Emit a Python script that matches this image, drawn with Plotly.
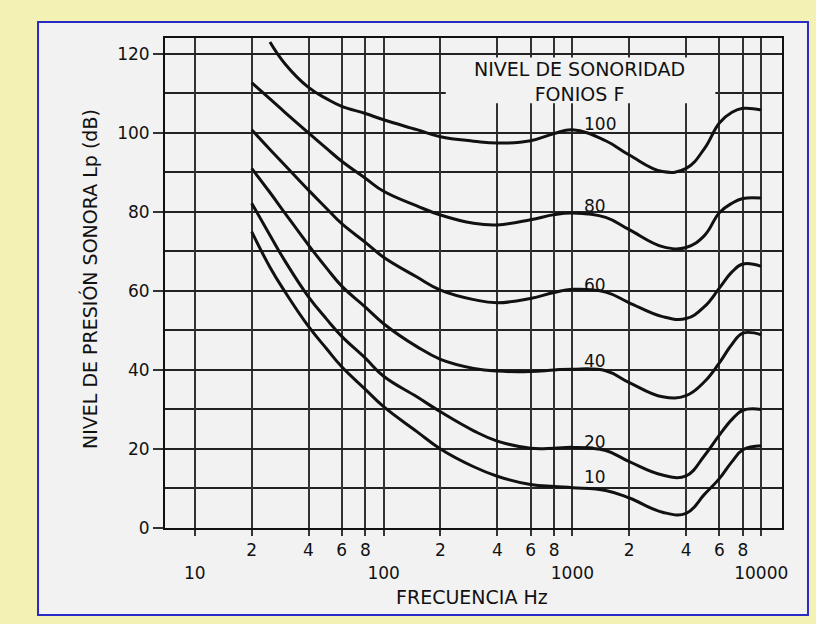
import math
import plotly.graph_objects as go

# ---- data ----
freq_hz = [20, 25, 30, 40, 50, 60, 80, 100, 150, 200, 300, 400, 600, 800,
           1000, 1500, 2000, 3000, 4000, 5000, 6000, 7000, 8000, 10000]
phon_levels = [100, 80, 60, 40, 20, 10]
spl_100 = [None, 123.0, 117.5, 111.5, 108.6, 106.7, 104.9, 103.3, 100.8, 99.0, 97.9, 97.4,
           98.0, 99.8, 100.8, 98.0, 94.4, 90.2, 91.0, 96.0, 102.5, 105.2, 106.2, 105.8]
spl_80 = [112.7, 108.6, 105.2, 100.0, 96.0, 92.8, 88.5, 85.2, 81.5, 79.2, 77.1, 76.7,
          78.0, 79.3, 79.7, 78.6, 75.5, 71.2, 71.0, 74.0, 79.8, 82.2, 83.4, 83.5]
spl_60 = [100.8, 95.8, 91.8, 85.5, 80.8, 77.0, 72.3, 68.5, 63.5, 60.2, 57.8, 57.0,
          58.1, 59.6, 60.4, 59.7, 57.0, 53.5, 53.0, 56.0, 60.7, 64.8, 66.8, 66.2]
spl_40 = [91.0, 84.9, 79.7, 71.6, 65.7, 61.2, 55.9, 51.7, 45.9, 42.7, 40.4, 39.7,
          39.6, 40.0, 40.2, 39.8, 36.8, 33.2, 33.5, 37.0, 41.8, 46.5, 49.3, 48.9]
spl_20 = [82.2, 74.1, 67.6, 58.5, 52.8, 48.5, 43.0, 38.4, 33.2, 29.4, 24.6, 22.0,
          20.2, 20.2, 20.4, 19.6, 16.8, 13.4, 13.2, 18.3, 23.5, 27.5, 29.8, 30.0]
spl_10 = [75.0, 66.0, 59.8, 51.0, 45.3, 40.8, 35.1, 30.7, 24.4, 20.0, 15.5, 13.1,
          11.0, 10.5, 10.2, 9.5, 7.6, 4.0, 3.7, 8.5, 12.5, 16.8, 19.8, 20.8]
curves = [spl_100, spl_80, spl_60, spl_40, spl_20, spl_10]

label_freq = 1120
label_db = [102.3, 81.5, 61.5, 42.2, 21.8, 12.8]

x_tickvals = [10, 20, 40, 60, 80, 100, 200, 400, 600, 800, 1000, 2000, 4000, 6000, 8000, 10000]
x_ticktext = ["<br>10", "2", "4", "6", "8", "<br>100", "2", "4", "6", "8", "<br>1000",
              "2", "4", "6", "8", "<br>10000"]
y_tickvals = [0, 20, 40, 60, 80, 100, 120]

legend_title = "NIVEL DE SONORIDAD<br>FONIOS F"
x_title = "FRECUENCIA Hz"
y_title = "NIVEL DE PRESIÓN SONORA Lp (dB)"

FONT = "DejaVu Sans"
INK = "#111111"

fig = go.Figure()
for level, vals in zip(phon_levels, curves):
    fig.add_trace(go.Scatter(
        x=freq_hz, y=vals, mode="lines", name=f"{level} fonios",
        line=dict(color=INK, width=3, shape="spline", smoothing=1.2),
        connectgaps=False, showlegend=False, hoverinfo="x+y"))

for level, ydb in zip(phon_levels, label_db):
    fig.add_annotation(x=math.log10(label_freq), y=ydb, text=str(level), showarrow=False,
                       xanchor="left", yanchor="middle",
                       font=dict(family=FONT, size=17, color=INK))

fig.add_annotation(xref="paper", yref="paper", x=0.671, y=0.911, text=legend_title,
                   showarrow=False, xanchor="center", yanchor="middle", align="center",
                   font=dict(family=FONT, size=19, color=INK))

# axis titles
fig.add_annotation(xref="paper", yref="paper", x=0.4976, y=-0.1408, text=x_title,
                   showarrow=False, xanchor="center", yanchor="middle",
                   font=dict(family=FONT, size=19, color=INK))
fig.add_annotation(xref="paper", yref="paper", x=-0.1232, y=0.508, text=y_title,
                   showarrow=False, xanchor="center", yanchor="middle", textangle=-90,
                   font=dict(family=FONT, size=19, color=INK))

# panel with blue border, and the blank box behind the legend text
fig.add_shape(type="rect", xref="paper", yref="paper", x0=-0.2058, x1=1.0421,
              y0=-0.1776, y1=1.0327, layer="below",
              fillcolor="#f2f2f2", line=dict(color="#2a2ac8", width=2))
fig.add_shape(type="rect", xref="paper", yref="paper", x0=0.455, x1=0.892,
              y0=0.867, y1=0.960, layer="above",
              fillcolor="#f2f2f2", line=dict(width=0))

fig.update_xaxes(
    type="log", range=[0.842, 4.110],
    tickmode="array", tickvals=x_tickvals, ticktext=x_ticktext, tickangle=0,
    ticks="outside", ticklen=6, tickwidth=1.5, tickcolor="#333333",
    showgrid=True, gridcolor="#333333", gridwidth=1.5,
    showline=True, linecolor=INK, linewidth=2, mirror=True,
    tickfont=dict(family=FONT, size=17, color=INK),
    zeroline=False, automargin=False)
fig.update_yaxes(
    range=[0, 124], tickmode="array", tickvals=y_tickvals,
    ticks="outside", ticklen=10, tickwidth=1.5, tickcolor="#333333",
    showgrid=True, gridcolor="#222222", gridwidth=1.5,
    minor=dict(dtick=10, showgrid=True, gridcolor="#222222", gridwidth=1.5, ticks=""),
    showline=True, linecolor=INK, linewidth=2, mirror=True,
    tickfont=dict(family=FONT, size=17, color=INK),
    zeroline=False, automargin=False)

fig.update_layout(
    width=816, height=624,
    margin=dict(l=165, r=34, t=38, b=96),
    paper_bgcolor="#f3f1b4", plot_bgcolor="rgba(0,0,0,0)",
    font=dict(family=FONT, color=INK),
    showlegend=False)

fig.write_html("out.html", config={"displayModeBar": False},
               post_script="document.body.style.margin='0';document.body.style.overflow='hidden';")
